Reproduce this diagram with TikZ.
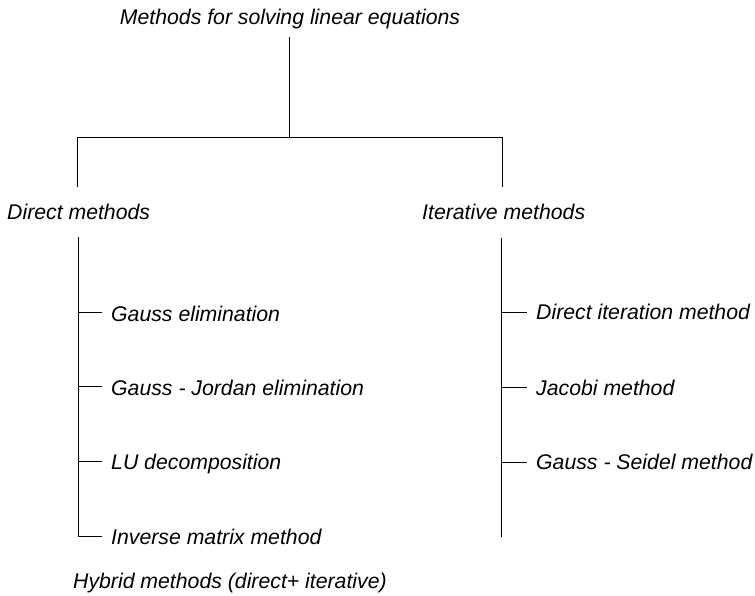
\documentclass[tikz,border=0pt]{standalone}
\usepackage{fontspec}
\setmainfont{Liberation Sans}
\begin{document}
\begin{tikzpicture}[x=1pt,y=-1pt,
  lbl/.style={font=\fontsize{21.25}{24}\selectfont\itshape, inner sep=0pt, anchor=base west},
  ln/.style={line width=0.9pt, black}]
\useasboundingbox (0,0) rectangle (755,596);
% texts
\node[lbl, anchor=base] (title) at (290,25) {Methods for solving linear equations};
\node[lbl] (direct) at (7,220) {Direct methods};
\node[lbl] (iter) at (422,220) {Iterative methods};
\node[lbl] (ge) at (111,321.5) {Gauss elimination};
\node[lbl] (gj) at (111,395) {Gauss - Jordan elimination};
\node[lbl] (lu) at (111,469) {LU decomposition};
\node[lbl] (inv) at (111,544) {Inverse matrix method};
\node[lbl] (di) at (536,319.5) {Direct iteration method};
\node[lbl] (jac) at (536,395) {Jacobi method};
\node[lbl] (gs) at (536,469.5) {Gauss - Seidel method};
\node[lbl] (hyb) at (73,588) {Hybrid methods (direct+ iterative)};
% connector points
\coordinate (top) at (289,37);
\coordinate (jn) at (289,137);
\coordinate (hl) at (77,137);
\coordinate (hr) at (502,137);
\coordinate (dl) at (77,187);
\coordinate (dr) at (502,187);
\coordinate (lt) at (78,237);
\coordinate (lb) at (78,536);
\coordinate (rt) at (501,238);
\coordinate (rb) at (501,537);
\coordinate (l1) at (78,312);  \coordinate (l1e) at (102,312);
\coordinate (l2) at (78,386);  \coordinate (l2e) at (102,386);
\coordinate (l3) at (78,461);  \coordinate (l3e) at (102,461);
\coordinate (l4e) at (102,536);
\coordinate (r1) at (501,312); \coordinate (r1e) at (527,312);
\coordinate (r2) at (501,387); \coordinate (r2e) at (527,387);
\coordinate (r3) at (501,462); \coordinate (r3e) at (527,462);
% connectors
\draw[ln] (top) -- (jn);
\draw[ln] (dl) -- (hl) -- (hr) -- (dr);
\draw[ln] (lt) -- (lb) -- (l4e);
\draw[ln] (l1) -- (l1e);
\draw[ln] (l2) -- (l2e);
\draw[ln] (l3) -- (l3e);
\draw[ln] (rt) -- (rb);
\draw[ln] (r1) -- (r1e);
\draw[ln] (r2) -- (r2e);
\draw[ln] (r3) -- (r3e);
\end{tikzpicture}
\end{document}
